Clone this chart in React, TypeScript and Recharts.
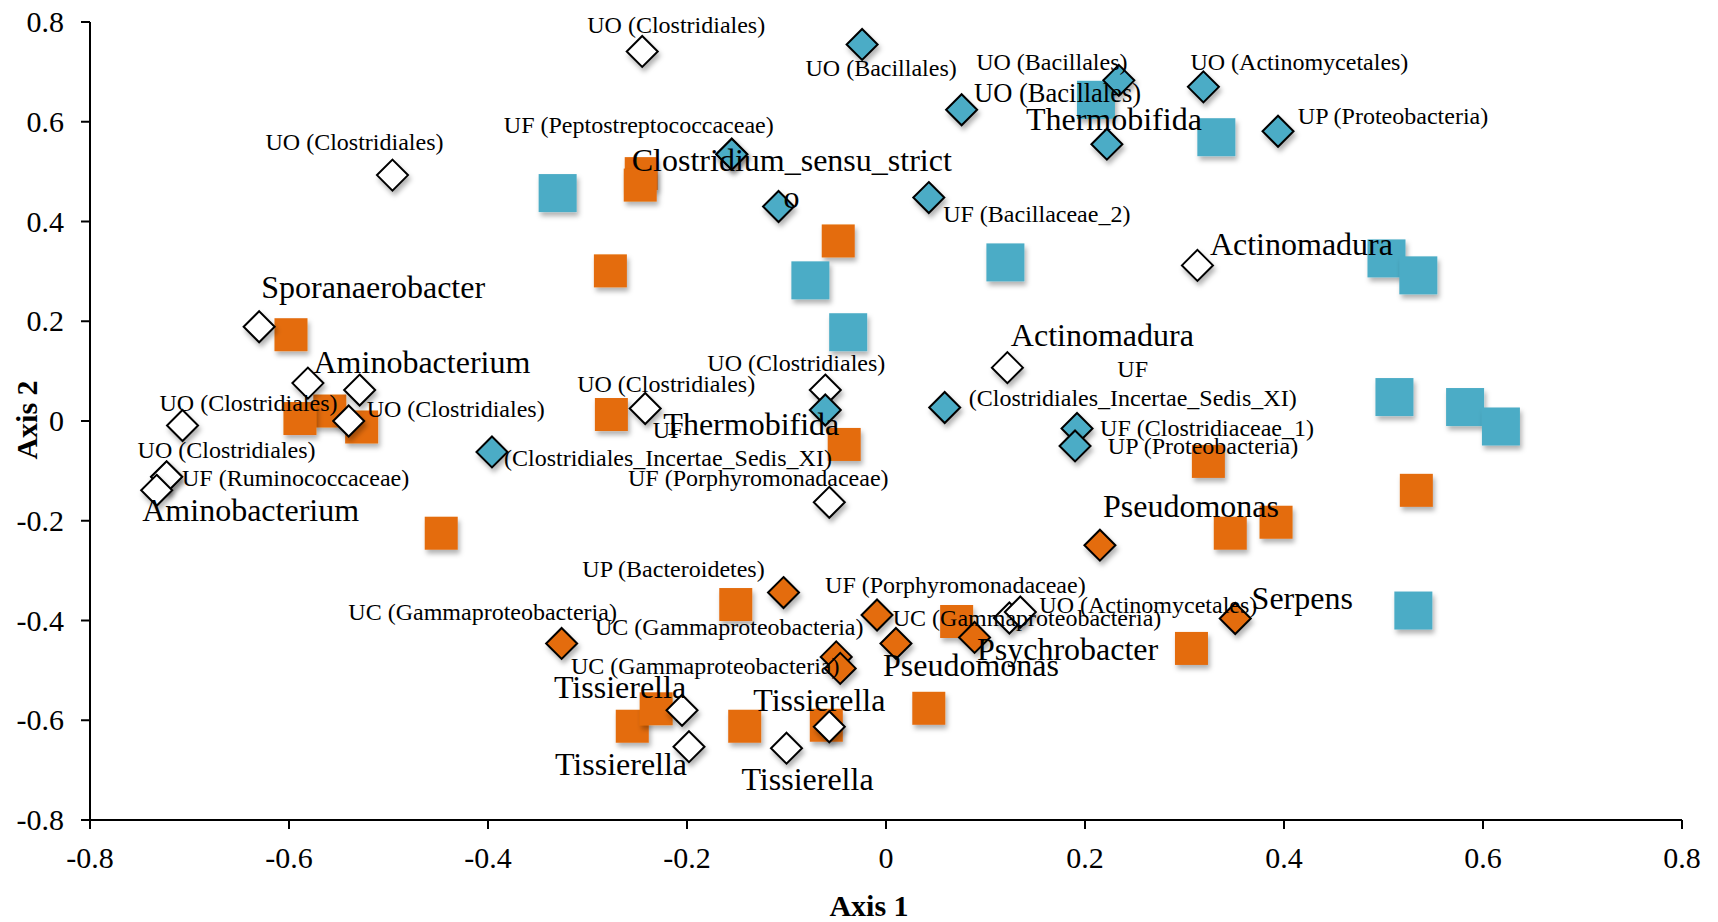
import React from 'react';
import { ScatterChart, Scatter, XAxis, YAxis } from 'recharts';

const FONT = "'Liberation Serif', 'Times New Roman', serif";
const ORANGE = '#E46C0A';
const BLUE = '#4BACC6';

// axis ticks
const TICKS = [-0.8, -0.6, -0.4, -0.2, 0, 0.2, 0.4, 0.6, 0.8];

// ---------- sample scores (squares, no labels) ----------
const orangeSquares = [
  { x: -0.246, y: 0.496 }, { x: -0.247, y: 0.473 }, { x: -0.277, y: 0.301 },
  { x: -0.048, y: 0.361 }, { x: -0.598, y: 0.173 }, { x: -0.559, y: 0.02 },
  { x: -0.589, y: 0.005 }, { x: -0.527, y: -0.012 }, { x: -0.447, y: -0.225 },
  { x: -0.276, y: 0.013 }, { x: -0.042, y: -0.047 }, { x: -0.151, y: -0.368 },
  { x: 0.324, y: -0.081 }, { x: 0.346, y: -0.225 }, { x: 0.392, y: -0.203 },
  { x: 0.533, y: -0.139 }, { x: 0.071, y: -0.402 }, { x: 0.307, y: -0.456 },
  { x: 0.043, y: -0.576 }, { x: -0.255, y: -0.612 }, { x: -0.231, y: -0.577 },
  { x: -0.142, y: -0.612 }, { x: -0.06, y: -0.61 },
];

const blueSquares = [
  { x: -0.33, y: 0.457 }, { x: -0.076, y: 0.282 }, { x: -0.038, y: 0.178 },
  { x: 0.211, y: 0.644 }, { x: 0.332, y: 0.569 }, { x: 0.12, y: 0.318 },
  { x: 0.503, y: 0.326 }, { x: 0.535, y: 0.292 }, { x: 0.511, y: 0.048 },
  { x: 0.582, y: 0.028 }, { x: 0.618, y: -0.011 }, { x: 0.53, y: -0.38 },
];

// ---------- taxa scores (diamonds, labelled) ----------
const whiteDiamonds = [
  { x: -0.245, y: 0.741, label: 'UO (Clostridiales)' },
  { x: -0.496, y: 0.493, label: 'UO (Clostridiales)' },
  { x: 0.313, y: 0.312, label: 'Actinomadura' },
  { x: -0.63, y: 0.189, label: 'Sporanaerobacter' },
  { x: -0.581, y: 0.076, label: 'Aminobacterium' },
  { x: -0.529, y: 0.062 },
  { x: -0.54, y: 0.0, label: 'UO (Clostridiales)' },
  { x: -0.707, y: -0.009, label: 'UO (Clostridiales)' },
  { x: -0.723, y: -0.112, label: 'UF (Ruminococcaceae)' },
  { x: -0.723, y: -0.112, label: 'UO (Clostridiales)' },
  { x: -0.733, y: -0.139, label: 'Aminobacterium' },
  { x: -0.242, y: 0.025, label: 'UO (Clostridiales)' },
  { x: -0.061, y: 0.062, label: 'UO (Clostridiales)' },
  { x: -0.057, y: -0.163, label: 'UF (Porphyromonadaceae)' },
  { x: 0.122, y: 0.107, label: 'Actinomadura' },
  { x: 0.124, y: -0.395, label: 'UF (Porphyromonadaceae)' },
  { x: 0.135, y: -0.383, label: 'UO (Actinomycetales)' },
  { x: -0.205, y: -0.58, label: 'Tissierella' },
  { x: -0.198, y: -0.653, label: 'Tissierella' },
  { x: -0.1, y: -0.656, label: 'Tissierella' },
  { x: -0.057, y: -0.613, label: 'Tissierella' },
];

const blueDiamonds = [
  { x: -0.024, y: 0.755, label: 'UO (Bacillales)' },
  { x: -0.155, y: 0.535, label: 'UF (Peptostreptococcaceae)' },
  { x: -0.155, y: 0.535, label: 'Clostridium_sensu_strict' },
  { x: -0.108, y: 0.43, label: 'o' },
  { x: 0.076, y: 0.624, label: 'UO (Bacillales)' },
  { x: 0.234, y: 0.683, label: 'UO (Bacillales)' },
  { x: 0.222, y: 0.555, label: 'Thermobifida' },
  { x: 0.319, y: 0.67, label: 'UO (Actinomycetales)' },
  { x: 0.394, y: 0.581, label: 'UP (Proteobacteria)' },
  { x: 0.043, y: 0.448, label: 'UF (Bacillaceae_2)' },
  { x: -0.396, y: -0.062, label: 'UF\n(Clostridiales_Incertae_Sedis_XI)' },
  { x: -0.061, y: 0.022, label: 'Thermobifida' },
  { x: 0.059, y: 0.027, label: 'UF\n(Clostridiales_Incertae_Sedis_XI)' },
  { x: 0.192, y: -0.015, label: 'UF (Clostridiaceae_1)' },
  { x: 0.19, y: -0.05, label: 'UP (Proteobacteria)' },
];

const orangeDiamonds = [
  { x: -0.103, y: -0.344, label: 'UP (Bacteroidetes)' },
  { x: -0.326, y: -0.446, label: 'UC (Gammaproteobacteria)' },
  { x: -0.05, y: -0.473, label: 'UC (Gammaproteobacteria)' },
  { x: -0.046, y: -0.496, label: 'UC (Gammaproteobacteria)' },
  { x: -0.009, y: -0.389, label: 'UC (Gammaproteobacteria)' },
  { x: 0.01, y: -0.446, label: 'Pseudomonas' },
  { x: 0.089, y: -0.434, label: 'Psychrobacter' },
  { x: 0.351, y: -0.396, label: 'Serpens' },
  { x: 0.215, y: -0.249, label: 'Pseudomonas' },
];

// label placement: [dx, dy of baseline, font size] relative to the marker centre
const LABEL_POS: Record<string, number[]> = {
  w0: [34, -18], w1: [-38, -25], w2: [104, -10, 32], w3: [114, -29, 32], w4: [114, -10, 32],
  w6: [107, -4], w7: [66, -14], w8: [129, 9], w9: [60, -19], w10: [94, 31, 32],
  w11: [21, -17], w12: [-29, -19], w13: [-71, -16], w14: [95, -22, 32], w15: [-54, -25],
  w16: [128, 1], w17: [-62, -12, 32], w18: [-68, 28, 32], w19: [21, 42, 32], w20: [-10, -16, 32],
  b0: [19, 32], b1: [-93, -21], b2: [60, 17, 32], b3: [13, 1, 32], b4: [96, -8, 26.5],
  b5: [-67, -10], b6: [7, -14, 32], b7: [96, -17], b8: [115, -7], b9: [108, 24],
  b10: [176, 14], b11: [-74, 25, 32], b12: [188, -2], b13: [130, 8], b14: [128, 8],
  o0: [-110, -16], o1: [-79, -23], o2: [-107, -22], o3: [-135, 6], o4: [150, 11],
  o5: [75, 33, 32], o6: [93, 23, 32], o7: [67, -10, 32], o8: [91, -28, 32],
};

const labelRows = [
  ...whiteDiamonds.map((p, i) => ({ ...p, key: 'w' + i })),
  ...blueDiamonds.map((p, i) => ({ ...p, key: 'b' + i })),
  ...orangeDiamonds.map((p, i) => ({ ...p, key: 'o' + i })),
].filter((p) => p.label);

// ---------- shapes ----------
const square = (color: string, size: number) => (props: any) => {
  const { cx, cy } = props;
  if (cx == null || cy == null) return <g />;
  return (
    <rect x={cx - size / 2} y={cy - size / 2} width={size} height={size} fill={color} filter="url(#ptShadow)" />
  );
};

const diamond = (color: string) => (props: any) => {
  const { cx, cy } = props;
  if (cx == null || cy == null) return <g />;
  const h = 15.5;
  return (
    <path
      d={`M${cx},${cy - h}L${cx + h},${cy}L${cx},${cy + h}L${cx - h},${cy}Z`}
      fill={color}
      stroke="#000"
      strokeWidth={2}
      filter="url(#ptShadow)"
    />
  );
};

const renderLabel = (props: any) => {
  const { cx, cy, payload } = props;
  if (cx == null || cy == null || !payload) return <g />;
  const pos = LABEL_POS[payload.key] || [0, 0];
  const size = pos[2] || 24;
  const lines = String(payload.label).split('\n');
  const lh = size * 1.18;
  const x = cx + pos[0];
  const y0 = cy + pos[1] - (lines.length - 1) * lh;
  return (
    <text x={x} y={y0} textAnchor="middle" fontFamily={FONT} fontSize={size} fill="#000">
      {lines.map((ln, i) => (
        <tspan key={i} x={x} dy={i === 0 ? 0 : lh}>
          {ln}
        </tspan>
      ))}
    </text>
  );
};

const XTick = (props: any) => {
  const { x, y, payload } = props;
  return (
    <text x={x} y={y} dy="0.7em" textAnchor="middle" fontFamily={FONT} fontSize={30} fill="#000">
      {String(payload.value)}
    </text>
  );
};

const YTick = (props: any) => {
  const { x, y, payload } = props;
  return (
    <text x={x} y={y} dy="0.34em" textAnchor="end" fontFamily={FONT} fontSize={30} fill="#000">
      {String(payload.value)}
    </text>
  );
};

const axisStyle = { stroke: '#000', strokeWidth: 2 };

export default function App() {
  return (
    <div
      style={{
        position: 'absolute',
        left: 0,
        top: 0,
        width: 1718,
        height: 922,
        background: '#fff',
        fontFamily: FONT,
        overflow: 'hidden',
      }}
    >
      <svg width={0} height={0} style={{ position: 'absolute' }}>
        <defs>
          <filter id="ptShadow" x="-40%" y="-40%" width="180%" height="180%">
            <feDropShadow dx="2" dy="4" stdDeviation="2.5" floodColor="#000" floodOpacity="0.3" />
          </filter>
        </defs>
      </svg>
      <ScatterChart width={1718} height={922} margin={{ top: 22, right: 36, bottom: 42, left: 10 }}>
        <XAxis
          type="number"
          dataKey="x"
          domain={[-0.8, 0.8]}
          ticks={TICKS}
          interval={0}
          height={60}
          tickSize={9}
          tickMargin={18}
          axisLine={axisStyle}
          tickLine={axisStyle}
          tick={<XTick />}
        />
        <YAxis
          type="number"
          dataKey="y"
          domain={[-0.8, 0.8]}
          ticks={TICKS}
          interval={0}
          width={80}
          tickSize={9}
          tickMargin={17}
          axisLine={axisStyle}
          tickLine={axisStyle}
          tick={<YTick />}
        />
        <Scatter data={orangeSquares} shape={square(ORANGE, 33)} isAnimationActive={false} />
        <Scatter data={blueSquares} shape={square(BLUE, 38)} isAnimationActive={false} />
        <Scatter data={whiteDiamonds} shape={diamond('#fff')} isAnimationActive={false} />
        <Scatter data={blueDiamonds} shape={diamond(BLUE)} isAnimationActive={false} />
        <Scatter data={orangeDiamonds} shape={diamond(ORANGE)} isAnimationActive={false} />
        <Scatter data={labelRows} shape={renderLabel} isAnimationActive={false} />
      </ScatterChart>
      <svg
        width={1718}
        height={922}
        style={{ position: 'absolute', left: 0, top: 0, pointerEvents: 'none', overflow: 'visible' }}
      >
        <text x={869} y={916} textAnchor="middle" fontFamily={FONT} fontWeight="bold" fontSize={30} fill="#000">
          Axis 1
        </text>
        <text
          transform="translate(37,420) rotate(-90)"
          textAnchor="middle"
          fontFamily={FONT}
          fontWeight="bold"
          fontSize={30}
          fill="#000"
        >
          Axis 2
        </text>
      </svg>
    </div>
  );
}
